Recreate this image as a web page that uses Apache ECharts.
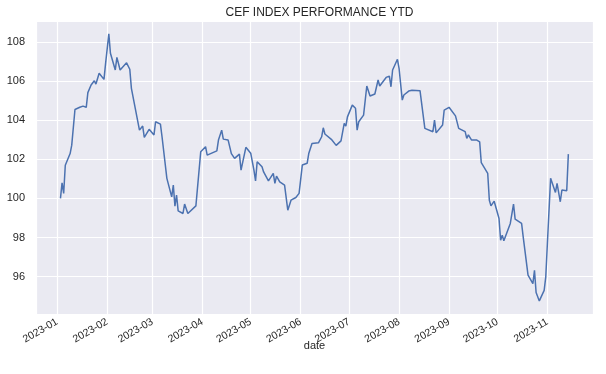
<!DOCTYPE html>
<html>
<head>
<meta charset="utf-8">
<script src="https://cdn.jsdelivr.net/npm/echarts@6/dist/echarts.min.js"></script>
<style>
html,body{margin:0;padding:0;background:#fff;}
#chart{width:606px;height:374px;}
</style>
</head>
<body>
<div id="chart"></div>
<script>
const titleText = 'CEF INDEX PERFORMANCE YTD';
const xAxisName = 'date';

const dates = [
 '2023-01-03','2023-01-04','2023-01-05','2023-01-06','2023-01-09','2023-01-10','2023-01-12','2023-01-15',
 '2023-01-17','2023-01-19','2023-01-20','2023-01-22','2023-01-24','2023-01-25','2023-01-27','2023-01-30',
 '2023-01-31','2023-02-02','2023-02-03','2023-02-06','2023-02-07','2023-02-09','2023-02-13','2023-02-15',
 '2023-02-16','2023-02-21','2023-02-22','2023-02-23','2023-02-24','2023-02-27','2023-03-02','2023-03-03',
 '2023-03-06','2023-03-07','2023-03-08','2023-03-10','2023-03-13','2023-03-14','2023-03-15','2023-03-16',
 '2023-03-17','2023-03-20','2023-03-21','2023-03-23','2023-03-28','2023-03-31','2023-04-03','2023-04-04',
 '2023-04-10','2023-04-11','2023-04-13','2023-04-14','2023-04-17','2023-04-19','2023-04-21','2023-04-24',
 '2023-04-25','2023-04-26','2023-04-28','2023-05-01','2023-05-03','2023-05-04','2023-05-05','2023-05-08',
 '2023-05-09','2023-05-10','2023-05-12','2023-05-15','2023-05-16','2023-05-17','2023-05-19','2023-05-22',
 '2023-05-24','2023-05-25','2023-05-26','2023-05-29','2023-05-31','2023-06-02','2023-06-05','2023-06-06',
 '2023-06-08','2023-06-09','2023-06-12','2023-06-14','2023-06-15','2023-06-16','2023-06-20','2023-06-23',
 '2023-06-26','2023-06-28','2023-06-29','2023-06-30','2023-07-03','2023-07-05','2023-07-06','2023-07-07',
 '2023-07-10','2023-07-12','2023-07-14','2023-07-17','2023-07-19','2023-07-20','2023-07-22','2023-07-24',
 '2023-07-26','2023-07-27','2023-07-28','2023-07-31','2023-08-01','2023-08-03','2023-08-04','2023-08-07',
 '2023-08-08','2023-08-09','2023-08-14','2023-08-17','2023-08-22','2023-08-23','2023-08-24','2023-08-28',
 '2023-08-29','2023-09-01','2023-09-05','2023-09-07','2023-09-11','2023-09-12','2023-09-13','2023-09-15',
 '2023-09-18','2023-09-20','2023-09-21','2023-09-22','2023-09-25','2023-09-26','2023-09-27','2023-09-29',
 '2023-10-02','2023-10-03','2023-10-04','2023-10-05','2023-10-09','2023-10-11','2023-10-12','2023-10-16',
 '2023-10-17','2023-10-20','2023-10-23','2023-10-24','2023-10-25','2023-10-27','2023-10-30','2023-10-31',
 '2023-11-01','2023-11-03','2023-11-06','2023-11-07','2023-11-08','2023-11-09','2023-11-10','2023-11-13',
 '2023-11-14'
];

const values = [
 100.0,100.8,100.26,101.7,102.3,102.73,104.56,104.67,
 104.73,104.67,105.42,105.81,106.03,105.86,106.41,106.1,
 106.92,108.43,107.44,106.58,107.23,106.58,106.95,106.62,
 105.64,103.5,103.42,103.71,103.13,103.54,103.25,103.93,
 103.81,103.16,103.13,101.03,100.08,100.68,99.6,100.17,
 99.36,99.23,99.71,99.23,99.62,102.39,102.65,102.22,
 102.44,102.99,103.5,103.04,102.99,102.3,102.05,102.27,
 101.45,101.5,102.62,102.32,101.45,100.9,101.88,101.62,
 101.36,101.45,100.9,101.28,100.77,101.14,100.85,100.68,
 99.4,99.33,99.91,100.05,100.26,101.71,101.8,102.3,
 102.82,102.73,102.85,103.16,103.62,103.3,103.03,102.72,
 102.95,103.85,103.71,104.18,104.78,104.62,103.5,103.93,
 104.27,105.76,105.25,105.35,106.07,105.76,105.98,106.2,
 106.27,105.72,106.58,107.13,106.67,105.04,105.3,105.5,
 105.47,105.54,105.52,103.59,103.42,104.02,103.36,103.76,
 104.53,104.67,104.23,103.59,103.42,103.08,103.26,102.99,
 103.0,102.9,101.83,101.93,101.28,99.91,99.62,99.86,
 98.97,97.86,98.12,97.83,98.72,99.71,98.94,98.72,
 98.03,96.07,95.64,96.32,95.18,94.75,95.29,95.98,
 97.69,101.03,100.31,100.77,100.7,99.83,100.43,100.39,
 102.27
];

const xRange = ['2022-12-18T20:00:00', '2023-11-29T07:00:00'];
const yRange = [94.08, 109.04];

const seriesData = dates.map((d, i) => [d, values[i]]);
const pad = n => (n < 10 ? '0' : '') + n;
const txt = '#262626';
const font = '"Liberation Sans", Arial, sans-serif';

const chart = echarts.init(document.getElementById('chart'), null, {renderer: 'canvas'});
chart.setOption({
  animation: false,
  backgroundColor: '#ffffff',
  title: {
    text: titleText,
    left: 314.5,
    textAlign: 'center',
    top: 2,
    textStyle: {fontSize: 12, fontWeight: 'normal', color: txt, fontFamily: font}
  },
  grid: {
    left: 36, right: 13, top: 22, bottom: 60,
    show: true, backgroundColor: '#EAEAF2', borderWidth: 0
  },
  xAxis: {
    type: 'time',
    min: xRange[0],
    max: xRange[1],
    splitNumber: 12,
    name: xAxisName,
    nameLocation: 'middle',
    nameGap: 26,
    nameMoveOverlap: false,
    nameTextStyle: {fontSize: 11, color: txt, fontFamily: font},
    axisLine: {show: false},
    axisTick: {show: false},
    minorTick: {show: false},
    splitLine: {show: true, lineStyle: {color: '#ffffff', width: 1.2}},
    axisLabel: {
      rotate: 30,
      margin: 7,
      fontSize: 10.5,
      color: txt,
      fontFamily: font,
      fontWeight: 'normal',
      formatter: function (v) {
        const d = new Date(v);
        return d.getFullYear() + '-' + pad(d.getMonth() + 1);
      }
    }
  },
  yAxis: {
    type: 'value',
    min: yRange[0],
    max: yRange[1],
    splitNumber: 7,
    axisLine: {show: false},
    axisTick: {show: false},
    splitLine: {show: true, showMinLine: false, showMaxLine: false, lineStyle: {color: '#ffffff', width: 1.2}},
    axisLabel: {
      showMinLabel: false,
      showMaxLabel: false,
      margin: 11,
      fontSize: 11,
      color: txt,
      fontFamily: font
    }
  },
  series: [{
    type: 'line',
    data: seriesData,
    showSymbol: false,
    symbol: 'none',
    lineStyle: {color: '#4C72B0', width: 1.5},
    itemStyle: {color: '#4C72B0'}
  }]
});
</script>
</body>
</html>
